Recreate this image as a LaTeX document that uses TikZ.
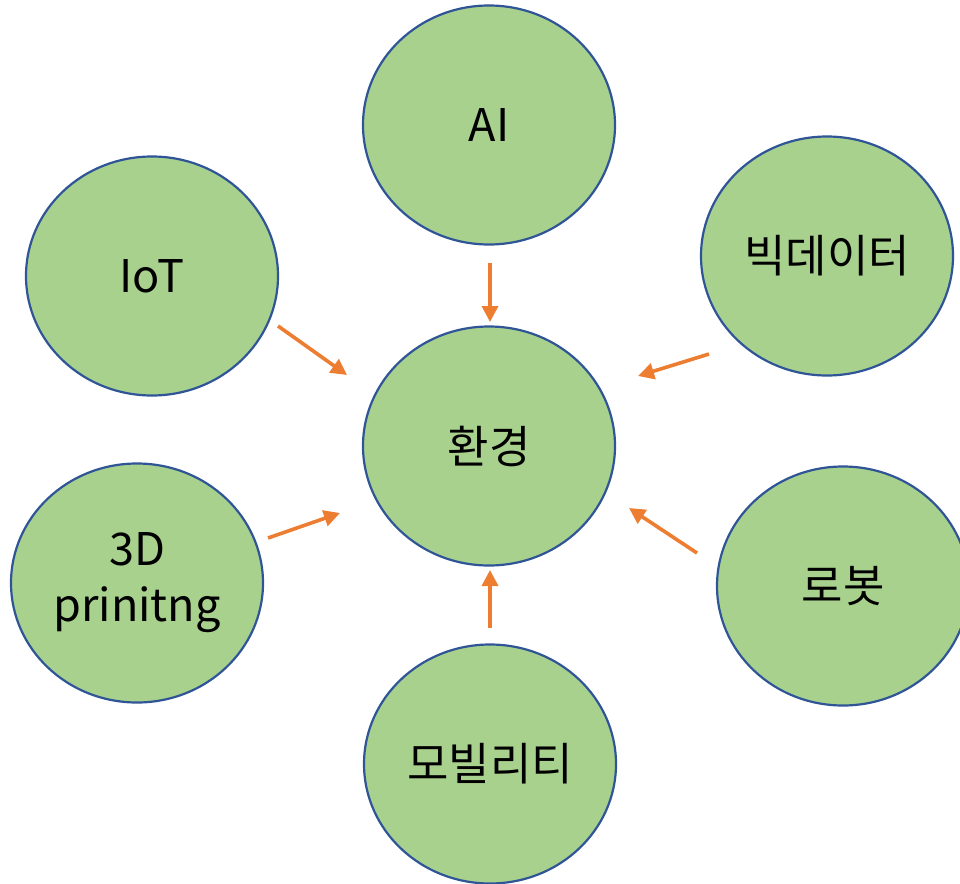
\documentclass[tikz,border=0pt]{standalone}
\usepackage{fontspec}
\setmainfont{Noto Sans CJK KR}
\usepackage{tikz}
\usetikzlibrary{shapes.geometric}
\usetikzlibrary{arrows.meta}
\definecolor{leaf}{HTML}{A9D18E}
\definecolor{rim}{HTML}{2F5597}
\definecolor{flow}{HTML}{ED7D31}

\begin{document}
\begin{tikzpicture}[x=1pt,y=-1pt,
    topic/.style={ellipse,draw=rim,fill=leaf,line width=2.2pt,minimum width=252pt,minimum height=239pt,inner sep=0pt,align=center,font=\fontsize{45}{56}\selectfont},
    feed/.style={-{Triangle[length=16pt,width=16pt]},draw=flow,line width=3.6pt}]
		\useasboundingbox (0,0) rectangle (960,883);
		\node[topic] (env) at (489,446) {환경};
		\node[topic] (ai) at (489,125) {AI};
		\node[topic] (iot) at (152,276) {IoT};
		\node[topic] (bigdata) at (827,256) {빅데이터};
		\node[topic] (print) at (137,583) {3D\\prinitng};
		\node[topic] (robot) at (843,586) {로봇};
		\node[topic] (mobility) at (490,764) {모빌리티};
		\coordinate (ai-s) at (490,263);
		\coordinate (ai-e) at (490,322);
		\coordinate (iot-s) at (278,326);
		\coordinate (iot-e) at (347,375);
		\coordinate (bigdata-s) at (709,354);
		\coordinate (bigdata-e) at (638,376);
		\coordinate (print-s) at (268,538);
		\coordinate (print-e) at (340,513);
		\coordinate (robot-s) at (697,553);
		\coordinate (robot-e) at (629,508);
		\coordinate (mobility-s) at (490,628);
		\coordinate (mobility-e) at (490,570);
		\draw [feed] (ai-s) -- (ai-e);
		\draw [feed] (iot-s) -- (iot-e);
		\draw [feed] (bigdata-s) -- (bigdata-e);
		\draw [feed] (print-s) -- (print-e);
		\draw [feed] (robot-s) -- (robot-e);
		\draw [feed] (mobility-s) -- (mobility-e);
    \end{tikzpicture}
\end{document}
